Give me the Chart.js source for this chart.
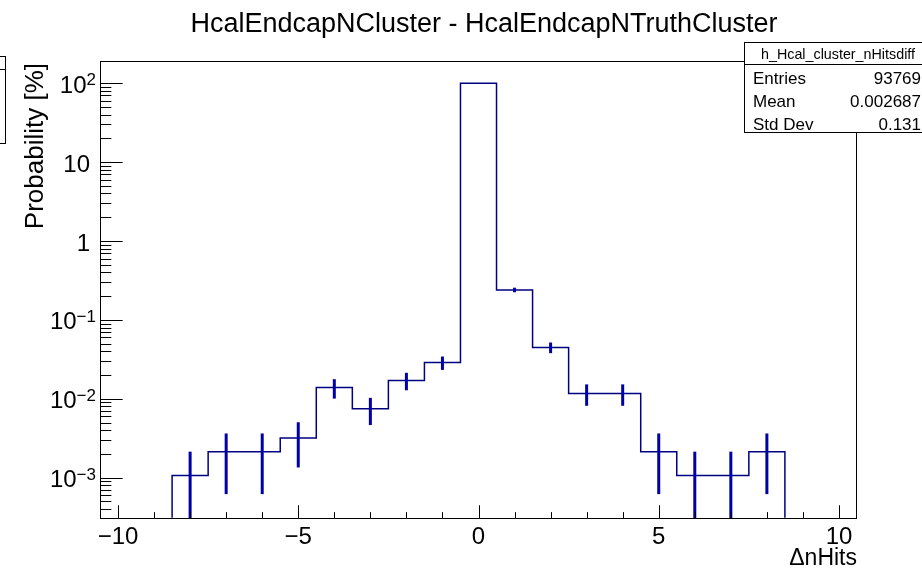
<!DOCTYPE html>
<html>
<head>
<meta charset="utf-8">
<title>HcalEndcapNCluster - HcalEndcapNTruthCluster</title>
<script src="https://cdn.jsdelivr.net/npm/chart.js@4.4.1/dist/chart.umd.min.js"></script>
<style>
  html, body { margin: 0; padding: 0; background: #fff; }
  canvas { display: block; }
</style>
</head>
<body>
<canvas id="hist" width="922" height="572"></canvas>
<script>
// histogram contents, probability in percent per unit-wide bin
const binCenters = [-8, -7, -6, -5, -4, -3, -2, -1, 0, 1, 2, 3, 4, 5, 6, 7, 8];
const probability = [0.00107, 0.00213, 0.00213, 0.00320, 0.0139, 0.00747, 0.0171, 0.0288, 99.6,
                     0.240, 0.0448, 0.0117, 0.0117, 0.00213, 0.00107, 0.00107, 0.00213];
const probError = [0.00107, 0.00151, 0.00151, 0.00185, 0.00384, 0.00282, 0.00427, 0.00554, 0.326,
                   0.0160, 0.00691, 0.00354, 0.00354, 0.00151, 0.00107, 0.00107, 0.00151];
const binWidth = 1;

// axis ranges and labels
const xRange = [-10.5, 10.5];
const yRange = [3.12e-4, 191];
const xTickValues = [-10, -5, 0, 5, 10];
const xTickLabels = ['\u221210', '\u22125', '0', '5', '10'];
const yTickValues = [100, 10, 1, 0.1, 0.01, 0.001];
const yTickLabels = [['10', '2'], ['10', ''], ['1', ''], ['10', '\u22121'], ['10', '\u22122'], ['10', '\u22123']];

const titleText = 'HcalEndcapNCluster - HcalEndcapNTruthCluster';
const xTitle = '\u0394nHits';
const yTitle = 'Probability [%]';
const statsName = 'h_Hcal_cluster_nHitsdiff';
const statsRows = [['Entries', '93769'], ['Mean', '0.002687'], ['Std Dev', '0.131']];

const FONT = '"Liberation Sans", Arial, Helvetica, sans-serif';
const lineColor = '#000080';
const errColor = '#0000a8';

// outline of the histogram: up from the floor, across each bin, back down
const outline = [{ x: binCenters[0] - binWidth / 2, y: yRange[0] }];
binCenters.forEach((c, i) => outline.push({ x: c - binWidth / 2, y: probability[i] }));
const last = binCenters.length - 1;
outline.push({ x: binCenters[last] + binWidth / 2, y: probability[last] });
outline.push({ x: binCenters[last] + binWidth / 2, y: yRange[0] });

const rootStyle = {
  id: 'rootStyle',
  afterDatasetsDraw(chart) {
    const { ctx, chartArea: a } = chart;
    const xs = chart.scales.x, ys = chart.scales.y;

    // error bars
    ctx.save();
    ctx.beginPath();
    ctx.rect(a.left, a.top, a.right - a.left, a.bottom - a.top);
    ctx.clip();
    ctx.strokeStyle = errColor;
    ctx.lineWidth = 3;
    binCenters.forEach((c, i) => {
      const px = xs.getPixelForValue(c);
      const lo = probability[i] - probError[i];
      const yLo = lo > 0 ? Math.min(ys.getPixelForValue(lo), a.bottom) : a.bottom;
      const yHi = ys.getPixelForValue(probability[i] + probError[i]);
      ctx.beginPath();
      ctx.moveTo(px, yLo);
      ctx.lineTo(px, yHi);
      ctx.stroke();
    });
    ctx.restore();

    ctx.save();
    ctx.strokeStyle = '#000';
    ctx.lineWidth = 1;
    ctx.strokeRect(a.left + 0.5, a.top + 0.5, a.right - a.left - 1, a.bottom - a.top - 1);

    // x ticks (inside the frame)
    const xMajor = (a.bottom - a.top) * 0.03;
    ctx.beginPath();
    for (let v = -10; v <= 10; v++) {
      const px = Math.round(xs.getPixelForValue(v)) + 0.5;
      const len = v % 5 === 0 ? xMajor : xMajor / 2;
      ctx.moveTo(px, a.bottom);
      ctx.lineTo(px, a.bottom - len);
    }
    // y ticks, decades and 2..9 subdivisions
    const yMajor = (a.right - a.left) * 0.03;
    for (let k = -4; k <= 2; k++) {
      for (let m = 1; m <= 9; m++) {
        const v = m * Math.pow(10, k);
        if (v < yRange[0] || v > yRange[1]) continue;
        const py = Math.round(ys.getPixelForValue(v)) + 0.5;
        ctx.moveTo(a.left, py);
        ctx.lineTo(a.left + (m === 1 ? yMajor : yMajor / 2), py);
      }
    }
    ctx.stroke();

    ctx.fillStyle = '#000';
    // x tick labels
    ctx.font = '24px ' + FONT;
    ctx.textAlign = 'center';
    ctx.textBaseline = 'alphabetic';
    xTickValues.forEach((v, i) => {
      ctx.fillText(xTickLabels[i], xs.getPixelForValue(v), a.bottom + 25);
    });

    // y tick labels with superscript exponents
    yTickValues.forEach((v, i) => {
      const py = ys.getPixelForValue(v);
      const [base, exp] = yTickLabels[i];
      ctx.textAlign = 'right';
      if (exp) {
        ctx.font = '17px ' + FONT;
        const ew = ctx.measureText(exp).width;
        ctx.fillText(exp, a.left - 4, py + 2);
        ctx.font = '24px ' + FONT;
        ctx.fillText(base, a.left - 4 - ew, py + 9.5);
      } else {
        ctx.font = '24px ' + FONT;
        ctx.fillText(base, a.left - 10, py + 9.5);
      }
    });

    // axis titles
    ctx.font = '23px ' + FONT;
    ctx.textAlign = 'right';
    ctx.fillText(xTitle, a.right, a.bottom + 46);

    ctx.save();
    ctx.font = '26px ' + FONT;
    ctx.translate(36, 63);
    ctx.rotate(-Math.PI / 2);
    ctx.textAlign = 'right';
    ctx.textBaseline = 'middle';
    ctx.fillText(yTitle, 0, 0);
    ctx.restore();

    // main title
    ctx.font = '27px ' + FONT;
    ctx.textAlign = 'center';
    ctx.fillText(titleText, 484, 32);

    // stats box
    ctx.fillStyle = '#fff';
    ctx.fillRect(744.5, 42.5, 190, 90);
    ctx.strokeRect(744.5, 42.5, 190, 90);
    ctx.beginPath();
    ctx.moveTo(744.5, 64.5);
    ctx.lineTo(922, 64.5);
    ctx.stroke();
    ctx.fillStyle = '#000';
    ctx.font = '15px ' + FONT;
    ctx.textAlign = 'center';
    ctx.fillText(statsName, 838, 59, 154);
    ctx.font = '17px ' + FONT;
    statsRows.forEach(([name, val], i) => {
      const by = 83.5 + i * 23;
      ctx.textAlign = 'left';
      ctx.fillText(name, 753, by);
      ctx.textAlign = 'right';
      ctx.fillText(val, 921, by);
    });

    // edge of the neighbouring pad's box
    ctx.fillStyle = '#fff';
    ctx.fillRect(-10, 56.5, 15.5, 87);
    ctx.strokeRect(-10, 56.5, 15.5, 87);
    ctx.beginPath();
    ctx.moveTo(-10, 69.5);
    ctx.lineTo(5.5, 69.5);
    ctx.stroke();
    ctx.restore();
  }
};

new Chart(document.getElementById('hist').getContext('2d'), {
  type: 'line',
  data: {
    datasets: [{
      data: outline,
      stepped: true,
      borderColor: lineColor,
      borderWidth: 1.5,
      pointRadius: 0,
      fill: false,
    }],
  },
  options: {
    responsive: false,
    animation: false,
    layout: { padding: { left: 100, right: 65, top: 61, bottom: 53 } },
    plugins: {
      legend: { display: false },
      tooltip: { enabled: false },
    },
    scales: {
      x: { type: 'linear', min: xRange[0], max: xRange[1], display: false },
      y: { type: 'logarithmic', min: yRange[0], max: yRange[1], display: false },
    },
  },
  plugins: [rootStyle],
});
</script>
</body>
</html>
